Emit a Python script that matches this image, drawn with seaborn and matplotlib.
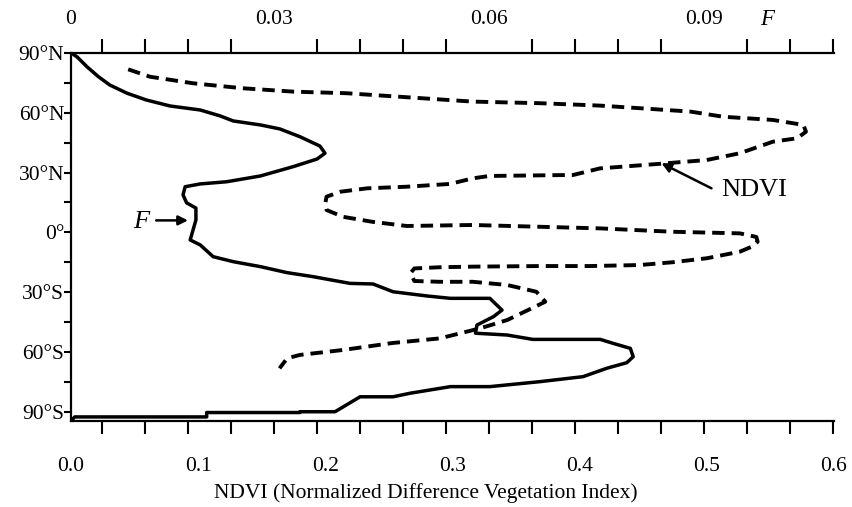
import numpy as np
import pandas as pd
import matplotlib
matplotlib.use("Agg")
import matplotlib.pyplot as plt
import seaborn as sns

# dashed curve: zonal mean NDVI against latitude (deg, north positive)
ndvi_lat = [81.8, 78.1, 74.8, 72.3, 70.6, 69.8, 67.8, 65.6, 64.8, 63.6, 62.3, 60.6,
            58.0, 56.4, 53.9, 50.5, 47.2, 45.5, 39.7, 36.3, 34.3, 32.1, 28.8, 28.3,
            27.1, 24.3, 22.9, 22.1, 20.4, 17.9, 14.7, 11.2, 7.8, 5.3, 3.2, 3.7, 2.8,
            2.0, 0.3, -0.5, -2.3, -4.7, -7.3, -9.7, -13.0, -15.0, -16.4, -16.9, -16.9,
            -17.2, -17.5, -18.1, -20.5, -24.4, -24.8, -24.8, -26.4, -29.8, -34.8,
            -37.9, -44.0, -48.1, -53.2, -55.5, -59.0, -61.5, -63.2, -68.2]
ndvi_val = [0.045, 0.062, 0.096, 0.135, 0.175, 0.217, 0.264, 0.316, 0.369, 0.416,
            0.447, 0.487, 0.513, 0.552, 0.576, 0.578, 0.571, 0.552, 0.526, 0.500,
            0.461, 0.416, 0.395, 0.329, 0.316, 0.298, 0.264, 0.233, 0.212, 0.201,
            0.200, 0.201, 0.214, 0.237, 0.264, 0.316, 0.369, 0.416, 0.473, 0.526,
            0.539, 0.540, 0.535, 0.526, 0.500, 0.473, 0.447, 0.408, 0.369, 0.316,
            0.290, 0.270, 0.267, 0.270, 0.290, 0.316, 0.343, 0.366, 0.373, 0.363,
            0.343, 0.322, 0.290, 0.253, 0.214, 0.180, 0.170, 0.164]

# solid curve: F against latitude
f_lat = [90.0, 88.1, 83.1, 78.1, 73.9, 69.8, 66.4, 63.4, 61.4, 58.4, 55.9, 53.9,
         51.9, 48.0, 43.3, 39.7, 36.8, 33.0, 28.3, 25.4, 24.3, 22.9, 18.8, 14.8,
         12.2, 6.2, 1.2, -3.8, -6.3, -12.2, -14.7, -17.2, -20.2, -22.2, -25.6,
         -25.9, -29.8, -31.9, -33.1, -33.1, -39.0, -42.3, -46.5, -50.6, -51.5,
         -53.7, -53.7, -55.7, -58.2, -62.4, -65.4, -68.2, -72.4, -74.9, -77.4,
         -77.4, -80.7, -82.5, -82.5, -90.0, -90.0, -90.4, -90.4, -92.6, -92.6, -94.5]
f_val = [0.0017, 0.0025, 0.0039, 0.0055, 0.0071, 0.0095, 0.0122, 0.0155, 0.0197,
         0.0225, 0.0243, 0.0281, 0.0308, 0.0336, 0.0364, 0.0371, 0.0360, 0.0327,
         0.0281, 0.0234, 0.0197, 0.0176, 0.0173, 0.0178, 0.0191, 0.0191, 0.0187,
         0.0183, 0.0197, 0.0215, 0.0243, 0.0281, 0.0318, 0.0354, 0.0406, 0.0438,
         0.0466, 0.0513, 0.0546, 0.0601, 0.0618, 0.0606, 0.0583, 0.0581, 0.0625,
         0.0661, 0.0755, 0.0773, 0.0797, 0.0801, 0.0792, 0.0764, 0.0731, 0.0671,
         0.0601, 0.0546, 0.0490, 0.0466, 0.0420, 0.0385, 0.0336, 0.0336, 0.0206,
         0.0206, 0.0022, 0.0017]

lat_ticks = [90, 60, 30, 0, -30, -60, -90]
lat_labels = ['90°N', '60°N', '30°N', '0°', '30°S', '60°S', '90°S']
ndvi_ticks = [0.0, 0.1, 0.2, 0.3, 0.4, 0.5, 0.6]
f_ticks = [0.03, 0.06, 0.09]
f_labels = ['0.03', '0.06', '0.09']

# the F scale of the original is offset a little from the NDVI scale
f_lo, f_hi = 0.00167, 0.1081
f_minor = np.arange(1, 19) * 0.006

sns.set_theme(style="white")
plt.rcParams['font.family'] = ['Liberation Serif', 'DejaVu Serif']
for k in ['text.color', 'axes.labelcolor', 'xtick.color', 'ytick.color']:
    plt.rcParams[k] = 'black'

fig = plt.figure(figsize=(8.52, 5.07), dpi=100)
ax = fig.add_axes([0.0833, 0.1702, 0.8955, 0.7253])
ax2 = ax.twiny()

df_ndvi = pd.DataFrame({'NDVI': ndvi_val, 'lat': ndvi_lat})
df_f = pd.DataFrame({'F': f_val, 'lat': f_lat})

sns.lineplot(data=df_ndvi, x='NDVI', y='lat', sort=False, estimator=None,
             ax=ax, color='black', linewidth=2.8)
ax.lines[-1].set_dashes((3.2, 1.8))
sns.lineplot(data=df_f, x='F', y='lat', sort=False, estimator=None,
             ax=ax2, color='black', linewidth=2.5)

ax.set_xlim(0, 0.6)
ax2.set_xlim(f_lo, f_hi)
ax.set_ylim(-94.5, 90)

# bottom axis
ax.set_xticks(ndvi_ticks, [f'{t:.1f}' for t in ndvi_ticks])
ax.set_xticks((f_minor - f_lo) / (f_hi - f_lo) * 0.6, minor=True)
ax.tick_params(axis='x', which='major', length=0, pad=26, labelsize=15.5, bottom=True)
ax.tick_params(axis='x', which='minor', length=9.5, width=1.5, direction='out', bottom=True)
ax.set_yticks(lat_ticks, lat_labels)
ax.set_yticks(np.arange(-75, 90, 30), minor=True)
ax.tick_params(axis='y', which='both', length=5, width=1.5, direction='out',
               left=True, pad=0, labelsize=15.5)

# top axis
ax2.set_xticks([f_lo] + f_ticks, ['0'] + f_labels)
ax2.set_xticks(f_minor, minor=True)
ax2.tick_params(axis='x', which='major', length=0, pad=17, labelsize=15.5, top=True)
ax2.tick_params(axis='x', which='minor', length=10, width=1.5, direction='out', top=True)
ax2.text(0.0988, 1.09, 'F', transform=ax2.get_xaxis_transform(), ha='center',
         va='center', fontsize=16.5, fontstyle='italic')

for s in ['right', 'top']:
    ax.spines[s].set_visible(False)
for s in ['left', 'right', 'bottom']:
    ax2.spines[s].set_visible(False)
for a, s in [(ax, 'left'), (ax, 'bottom'), (ax2, 'top')]:
    a.spines[s].set_color('black')
    a.spines[s].set_linewidth(1.6)

ax.set_ylabel('')
ax2.set_xlabel('')
ax2.set_ylabel('')
ax.set_xlabel('NDVI (Normalized Difference Vegetation Index)', fontsize=15.5)
ax.xaxis.set_label_coords(0.465, -0.17)

# labels with arrows
ax.text(0.0555, 5.2, 'F', ha='center', va='center', fontsize=19, fontstyle='italic')
ax.annotate('', xy=(0.092, 6.0), xytext=(0.067, 6.0),
            arrowprops=dict(arrowstyle='-|>', color='black', lw=1.8, mutation_scale=14,
                            shrinkA=0, shrinkB=0))
ax.text(0.537, 21.3, 'NDVI', ha='center', va='center', fontsize=19)
ax.annotate('', xy=(0.4644, 34.7), xytext=(0.5037, 22.1),
            arrowprops=dict(arrowstyle='-|>', color='black', lw=1.8, mutation_scale=14,
                            shrinkA=0, shrinkB=0))

fig.savefig('out.png', dpi=100)
